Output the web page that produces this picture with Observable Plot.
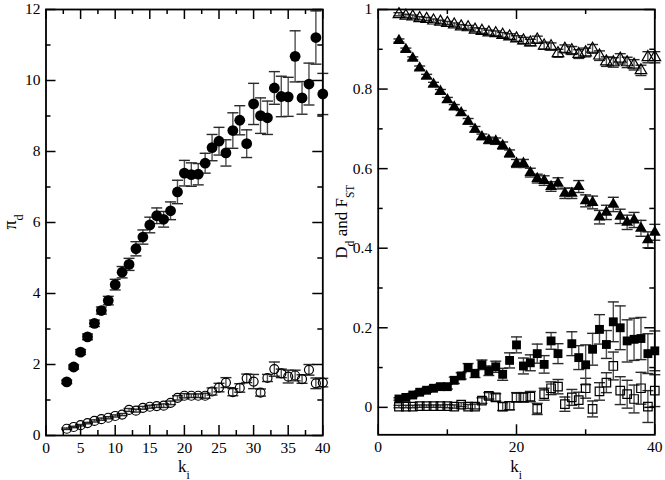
<!DOCTYPE html>
<html><head><meta charset="utf-8">
<script src="https://cdn.jsdelivr.net/npm/d3@7"></script>
<script src="https://cdn.jsdelivr.net/npm/@observablehq/plot@0.6"></script>
<style>
body{margin:0;background:#fff;}
#wrap{position:relative;width:665px;height:480px;overflow:hidden;}
#wrap svg{position:absolute;top:0;}
</style></head><body><div id="wrap"></div>
<script>
// ---------- data ----------
const kValues = [3,4,5,6,7,8,9,10,11,12,13,14,15,16,17,18,19,20,21,22,23,24,25,26,27,28,29,30,31,32,33,34,35,36,37,38,39,40];

// left panel: pi_d
const piFilled = [1.51,1.93,2.35,2.78,3.16,3.52,3.80,4.25,4.60,4.82,5.26,5.59,5.93,6.19,6.09,6.33,6.86,7.39,7.35,7.36,7.67,8.11,8.29,7.96,8.59,8.88,8.22,9.34,9.01,8.95,9.79,9.55,9.54,10.68,9.51,9.90,11.21,9.62];
const piFilledErr = [0.05,0.06,0.07,0.08,0.09,0.10,0.12,0.15,0.16,0.17,0.20,0.20,0.22,0.22,0.22,0.25,0.33,0.36,0.33,0.30,0.28,0.37,0.39,0.37,0.50,0.41,0.39,0.58,0.50,0.47,0.46,0.57,0.55,0.72,0.46,0.59,0.75,0.58];
const piOpen = [0.19,0.24,0.29,0.35,0.41,0.46,0.50,0.55,0.59,0.72,0.70,0.78,0.81,0.83,0.84,0.92,1.06,1.12,1.12,1.12,1.12,1.24,1.35,1.49,1.22,1.34,1.61,1.52,1.21,1.62,1.87,1.75,1.66,1.69,1.59,1.85,1.47,1.49];
const piOpenErr = [0.02,0.02,0.02,0.02,0.03,0.03,0.03,0.03,0.03,0.04,0.04,0.04,0.04,0.04,0.05,0.05,0.06,0.06,0.05,0.05,0.07,0.10,0.12,0.14,0.10,0.12,0.12,0.20,0.10,0.10,0.20,0.12,0.18,0.15,0.12,0.15,0.15,0.12];

// right panel: D_d and F_ST
const fstOpenTri = [0.988,0.984,0.982,0.978,0.976,0.972,0.969,0.966,0.962,0.957,0.955,0.949,0.946,0.942,0.940,0.936,0.932,0.927,0.922,0.917,0.924,0.909,0.907,0.890,0.901,0.897,0.888,0.892,0.901,0.884,0.869,0.867,0.876,0.867,0.861,0.847,0.880,0.880];
const fstOpenTriErr = [0.004,0.004,0.004,0.004,0.004,0.004,0.004,0.004,0.004,0.005,0.005,0.005,0.006,0.006,0.006,0.006,0.007,0.007,0.008,0.008,0.009,0.009,0.009,0.010,0.010,0.010,0.011,0.011,0.011,0.012,0.012,0.012,0.013,0.013,0.013,0.013,0.014,0.014];
const ddFilledTri = [0.922,0.899,0.877,0.853,0.832,0.812,0.794,0.773,0.755,0.740,0.719,0.699,0.680,0.671,0.669,0.658,0.638,0.613,0.613,0.590,0.575,0.570,0.555,0.563,0.538,0.538,0.555,0.519,0.515,0.478,0.490,0.510,0.480,0.465,0.471,0.450,0.421,0.440];
const ddFilledTriErr = [0.004,0.004,0.004,0.005,0.005,0.005,0.005,0.006,0.006,0.006,0.007,0.007,0.007,0.008,0.008,0.009,0.009,0.010,0.010,0.011,0.011,0.012,0.012,0.014,0.013,0.013,0.015,0.015,0.016,0.017,0.018,0.018,0.018,0.018,0.019,0.020,0.020,0.020];
const sqFilled = [0.021,0.025,0.031,0.038,0.043,0.048,0.052,0.052,0.068,0.079,0.100,0.085,0.107,0.092,0.102,0.083,0.118,0.157,0.104,0.112,0.135,0.108,0.167,0.135,null,0.160,0.125,0.107,0.146,0.196,0.158,0.215,0.200,0.167,0.171,0.173,0.135,0.142];
const sqFilledErr = [0.003,0.003,0.004,0.004,0.005,0.005,0.006,0.006,0.008,0.008,0.010,0.010,0.012,0.012,0.014,0.015,0.019,0.020,0.020,0.020,0.024,0.022,0.021,0.025,0.025,0.030,0.030,0.050,0.040,0.037,0.035,0.050,0.055,0.053,0.053,0.053,0.050,0.050];
const sqOpen = [0.002,0.002,0.002,0.003,0.003,0.003,0.003,0.003,0.002,0.007,0.002,0.002,0.017,0.029,0.025,0.002,0.004,0.025,0.025,0.027,-0.004,0.033,0.048,0.052,0.008,0.025,0.018,0.048,-0.004,0.040,0.062,0.104,0.042,0.033,0.021,0.048,0.002,0.042];
const sqOpenErr = [0.003,0.003,0.003,0.003,0.003,0.003,0.003,0.004,0.004,0.005,0.005,0.006,0.007,0.008,0.009,0.010,0.010,0.012,0.012,0.013,0.014,0.015,0.016,0.018,0.018,0.020,0.020,0.025,0.020,0.022,0.025,0.035,0.035,0.035,0.035,0.040,0.040,0.040];

// axis ticks
const leftXLabels = [0,5,10,15,20,25,30,35,40];
const leftXMinor = [2.5,7.5,12.5,17.5,22.5,27.5,32.5,37.5];
const leftYLabels = [0,2,4,6,8,10,12];
const leftYMinor = [1,3,5,7,9,11];
const rightXLabels = [0,20,40];
const rightXMinor = [10,30];
const rightYLabels = [0,0.2,0.4,0.6,0.8,1];
const rightYMinor = [0.1,0.3,0.5,0.7,0.9];

// ---------- helpers ----------
const rows = (vals, errs) => kValues.map((k,i) => ({k, v: vals[i], e: errs[i]})).filter(d => d.v != null);
const capSymbol = {draw(ctx, size){ const w = Math.sqrt(size/Math.PI); ctx.moveTo(-w,0); ctx.lineTo(w,0); }};
const barColor = "#505050";

function errMarks(data){
  return [
    Plot.ruleX(data, {x:"k", y1: d=>d.v-d.e, y2: d=>d.v+d.e, stroke: barColor, strokeWidth: 1.4}),
    Plot.dot(data, {x:"k", y: d=>d.v+d.e, symbol: capSymbol, r: 5.5, stroke: "#2a2a2a", strokeWidth: 1.4}),
    Plot.dot(data, {x:"k", y: d=>d.v-d.e, symbol: capSymbol, r: 5.5, stroke: "#2a2a2a", strokeWidth: 1.4})
  ];
}

function tickMarks(xMaj, xMin, yMaj, yMin, innerW, innerH){
  const M = 10, m = 5, sw = 1.5;
  return [
    Plot.tickX(xMaj, {x: d=>d, insetTop: innerH - M, strokeWidth: sw}),
    Plot.tickX(xMaj, {x: d=>d, insetBottom: innerH - M, strokeWidth: sw}),
    Plot.tickX(xMin, {x: d=>d, insetTop: innerH - m, strokeWidth: sw}),
    Plot.tickX(xMin, {x: d=>d, insetBottom: innerH - m, strokeWidth: sw}),
    Plot.tickY(yMaj, {y: d=>d, insetRight: innerW - M, strokeWidth: sw}),
    Plot.tickY(yMaj, {y: d=>d, insetLeft: innerW - M, strokeWidth: sw}),
    Plot.tickY(yMin, {y: d=>d, insetRight: innerW - m, strokeWidth: sw}),
    Plot.tickY(yMin, {y: d=>d, insetLeft: innerW - m, strokeWidth: sw})
  ];
}

const FONT = "'Liberation Serif', 'DejaVu Serif', serif";
const baseStyle = {fontFamily: FONT, fontSize: "16px", background: "transparent", overflow: "visible", color: "black"};
const axisFont = {fontFamily: FONT, fontSize: 15.5, label: null, tickSize: 0, tickFormat: d=>String(d)};

// ---------- left panel ----------
const L = {width: 332, height: 480, mL: 45.5, mR: 9.7, mT: 9, mB: 45};
const LW = L.width - L.mL - L.mR, LH = L.height - L.mT - L.mB;
const leftFilled = rows(piFilled, piFilledErr);
const leftOpen = rows(piOpen, piOpenErr);

const left = Plot.plot({
  width: L.width, height: L.height,
  marginLeft: L.mL, marginRight: L.mR, marginTop: L.mT, marginBottom: L.mB,
  style: baseStyle,
  x: {domain: [0, 40]},
  y: {domain: [0, 12]},
  marks: [
    ...errMarks(leftOpen),
    ...errMarks(leftFilled),
    Plot.dot(leftOpen, {x:"k", y:"v", r: 4.5, symbol: "circle", fill: "none", stroke: "black", strokeWidth: 1.2}),
    Plot.dot(leftFilled, {x:"k", y:"v", r: 5.4, symbol: "circle", fill: "black"}),
    ...tickMarks(leftXLabels, leftXMinor, leftYLabels, leftYMinor, LW, LH),
    Plot.axisX({...axisFont, ticks: leftXLabels, tickPadding: 6}),
    Plot.axisY({...axisFont, ticks: leftYLabels, tickPadding: 5.5}),
    Plot.frame({stroke: "black", strokeWidth: 1.8})
  ]
});
left.style.left = "0px";

// ---------- right panel ----------
const R = {left: 332, width: 333, height: 480, mL: 45.7, mR: 10.7, mT: 9, mB: 45.7};
const RW = R.width - R.mL - R.mR, RH = R.height - R.mT - R.mB;
const rOpenTri = rows(fstOpenTri, fstOpenTriErr);
const rFilledTri = rows(ddFilledTri, ddFilledTriErr);
const rFilledSq = rows(sqFilled, sqFilledErr);
const rOpenSq = rows(sqOpen, sqOpenErr);

const right = Plot.plot({
  width: R.width, height: R.height,
  marginLeft: R.mL, marginRight: R.mR, marginTop: R.mT, marginBottom: R.mB,
  style: baseStyle,
  x: {domain: [0, 40]},
  y: {domain: [-0.069, 1]},
  marks: [
    ...errMarks(rOpenSq),
    ...errMarks(rFilledSq),
    ...errMarks(rOpenTri),
    ...errMarks(rFilledTri),
    Plot.dot(rOpenSq, {x:"k", y:"v", r: 4.8, symbol: "square", fill: "none", stroke: "black", strokeWidth: 1.2}),
    Plot.dot(rFilledSq, {x:"k", y:"v", r: 5.0, symbol: "square", fill: "black"}),
    Plot.dot(rOpenTri, {x:"k", y:"v", r: 4.3, symbol: "triangle", fill: "none", stroke: "black", strokeWidth: 1.2}),
    Plot.dot(rFilledTri, {x:"k", y:"v", r: 4.4, symbol: "triangle", fill: "black"}),
    ...tickMarks(rightXLabels, rightXMinor, rightYLabels, rightYMinor, RW, RH),
    Plot.axisX({...axisFont, ticks: rightXLabels, tickPadding: 6}),
    Plot.axisY({...axisFont, ticks: rightYLabels, tickPadding: 6}),
    Plot.frame({stroke: "black", strokeWidth: 1.8})
  ]
});
right.style.left = R.left + "px";

const wrap = document.getElementById("wrap");
wrap.appendChild(left);
wrap.appendChild(right);

// ---------- axis titles (real text with subscripts) ----------
function title(svg, x, y, rotate, parts, size){
  const t = d3.select(svg).append("text")
    .attr("transform", `translate(${x},${y})` + (rotate ? ` rotate(${rotate})` : ""))
    .attr("text-anchor", "middle")
    .attr("font-family", FONT)
    .attr("font-size", size)
    .attr("fill", "black");
  parts.forEach(([s, sub]) => {
    const ts = t.append("tspan").text(s);
    if (sub) ts.attr("baseline-shift", "sub").attr("font-size", size * 0.68);
  });
}
title(left, L.mL + LW/2, 472, 0, [["k"],["i", true]], 17);
title(left, 16, L.mT + LH/2, -90, [["π"],["d", true]], 18);
title(right, R.mL + RW/2, 472, 0, [["k"],["i", true]], 17);
title(right, 15, R.mT + RH/2, -90, [["D"],["d", true],[" and F"],["ST", true]], 17);
</script></body></html>
